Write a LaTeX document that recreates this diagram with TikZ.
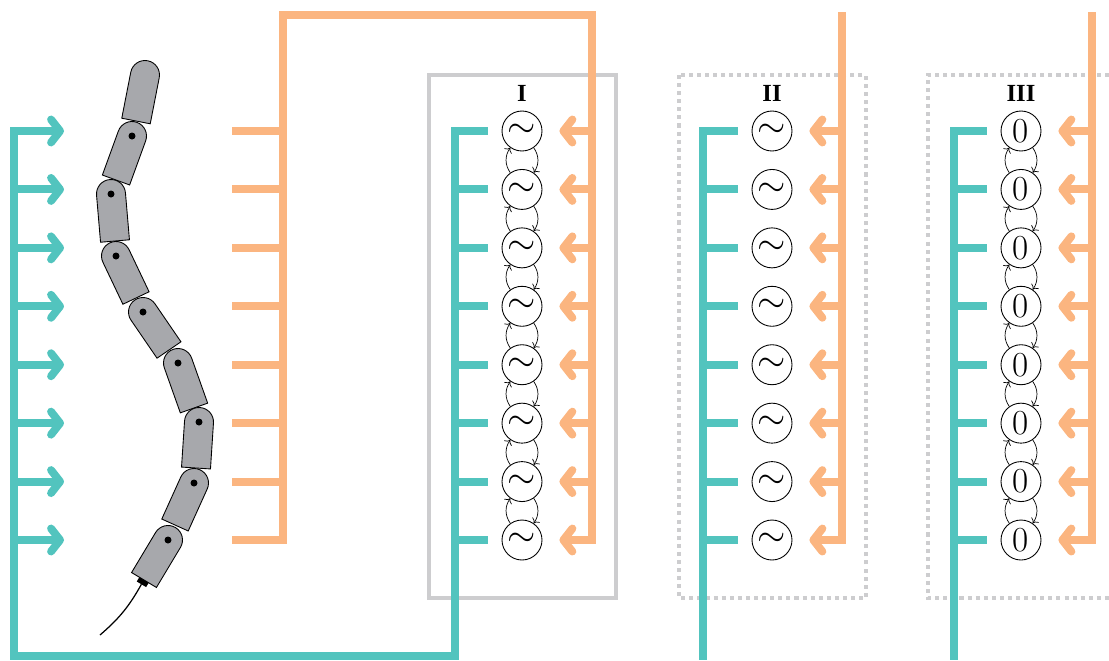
\documentclass[tikz,border=0pt]{standalone}
\usepackage{fontspec}
\usetikzlibrary{arrows.meta}

\newfontfamily\netfont{Liberation Serif}

\definecolor{cpgteal}{RGB}{82,196,190}
\definecolor{cpgorange}{RGB}{251,181,128}
\definecolor{boxgray}{RGB}{205,205,207}
\definecolor{linkgray}{RGB}{167,168,172}

\tikzset{
  feed/.style={line width=4.5pt},
  feedarrow/.style={feed, -{Straight Barb[round, length=1.8mm, width=4.6mm]}},
  osc/.style={circle, draw, line width=0.5pt, minimum size=0.8cm, inner sep=0pt,
    font=\fontsize{20}{24}\selectfont},
  coupling/.style={->, line width=0.4pt, bend left=35},
  netbox/.style={draw=boxgray, line width=2.8pt},
  netlabel/.style={inner sep=0pt, font=\netfont\fontsize{14}{16}\selectfont\bfseries},
  link/.style={fill=linkgray, draw=black, line width=0.5pt},
}

\begin{document}
\begin{tikzpicture}[x=0.02cm, y=-0.02cm]
    \useasboundingbox (0,0) rectangle (1109,660);

    % the three networks
    \draw[netbox] (429,75) rectangle (616,598);
    \draw[netbox, dash pattern=on 2.3pt off 2.3pt] (679,75) rectangle (866,598);
    \draw[netbox, dash pattern=on 2.3pt off 2.3pt] (1109,75) -- (928,75) -- (928,598) -- (1109,598);
    \node[netlabel] (lab-1) at (522,93) {I};
    \node[netlabel] (lab-2) at (772,93) {II};
    \node[netlabel] (lab-3) at (1021,93) {III};

    % oscillators
    \foreach \c/\x/\sym in {1/522/{$\sim$}, 2/772/{$\sim$}, 3/1021/0} {
      \foreach \i in {1,...,8} {
        \pgfmathsetmacro{\rowy}{131+(\i-1)*58.43}
        \node[osc] (osc-\c-\i) at (\x,\rowy) {\sym};
      }
    }
    \foreach \c in {1,3} {
      \foreach \i [evaluate=\i as \j using int(\i+1)] in {1,...,7} {
        \draw[coupling] (osc-\c-\j) to (osc-\c-\i);
        \draw[coupling] (osc-\c-\i) to (osc-\c-\j);
      }
    }

    % bus lines
    \coordinate (tin) at (14,656);
    \coordinate (tcol1) at (455,656);
    \coordinate (tcol2) at (703,660);
    \coordinate (tcol3) at (954,660);
    \coordinate (ostub) at (232,15);
    \coordinate (oout) at (283,15);
    \coordinate (ocol1) at (592,15);
    \coordinate (ocol2) at (842,12);
    \coordinate (ocol3) at (1092,12);

    % feedback (teal)
    \draw[feed, cpgteal] ([xshift=-0.28cm]osc-1-1.west) -- (osc-1-1 -| tcol1) -- (tcol1)
      -- (tin) -- (osc-1-1 -| tin) -- ++(20,0);
    \foreach \i in {1,...,8}
      \draw[feedarrow, cpgteal] (osc-1-\i -| tin) -- ++(50,0);
    \foreach \c in {2,3}
      \draw[feed, cpgteal] ([xshift=-0.28cm]osc-\c-1.west) -- (osc-\c-1 -| tcol\c) -- (tcol\c);
    \foreach \c in {1,2,3} {
      \foreach \i in {2,...,8}
        \draw[feed, cpgteal] (osc-\c-\i -| tcol\c) -- ([xshift=-0.28cm]osc-\c-\i.west);
    }

    % commands (orange)
    \draw[feed, cpgorange] (osc-1-8 -| ostub) -- (osc-1-8 -| oout) -- (oout) -- (ocol1)
      -- (osc-1-8 -| ocol1) -- ++(-17,0);
    \foreach \i in {1,...,7}
      \draw[feed, cpgorange] (osc-1-\i -| ostub) -- (osc-1-\i -| oout);
    \foreach \c in {2,3}
      \draw[feed, cpgorange] (ocol\c) -- (osc-\c-8 -| ocol\c) -- ++(-17,0);
    \foreach \c in {1,2,3} {
      \foreach \i in {1,...,8}
        \draw[feedarrow, cpgorange] (osc-\c-\i -| ocol\c) -- ([xshift=0.34cm]osc-\c-\i.east);
    }

    % snake robot, head first
    \foreach \n/\dx/\dy/\bx/\by in {1/145/75/136/121, 2/132/136/116/180, 3/111/194/115/241,
        4/116/256/136/298, 5/143/312/169/350, 6/178/363/194/408, 7/199/422/196/468,
        8/194/483/175/525, 9/168/540/144/580} {
      \pgfmathsetmacro{\ang}{atan2(\by-\dy,\dx-\bx)}
      \pgfmathsetmacro{\len}{veclen(\dx-\bx,\dy-\by)}
      \begin{scope}[shift={(\dx,\dy)}, rotate=\ang]
        \draw[link] (0,14.5) -- (-\len,14.5) -- (-\len,-14.5) -- (0,-14.5)
          arc[start angle=-90, end angle=90, radius=14.5] -- cycle;
        \coordinate (tail-\n) at (-\len,0);
        \coordinate (plug-\n) at (-\len-5,0);
      \end{scope}
      \ifnum\n>1 \fill (\dx,\dy) circle[radius=3.5]; \fi
    }
    \coordinate (cable) at (100,635);
    \draw[line width=6.2pt] (tail-9) -- (plug-9);
    \draw[line width=0.7pt] (plug-9) to[bend left=10] (cable);
\end{tikzpicture}
\end{document}
